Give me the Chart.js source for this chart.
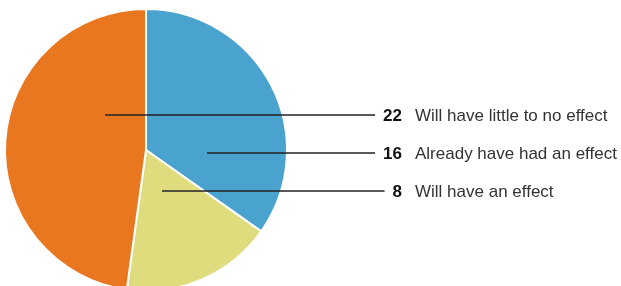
<!DOCTYPE html>
<html>
<head>
<meta charset="utf-8">
<script src="https://cdn.jsdelivr.net/npm/chart.js@4"></script>
<style>
  html, body { margin: 0; padding: 0; background: #fff; overflow: hidden; }
  #wrap { position: relative; width: 621px; height: 300px; }
</style>
</head>
<body>
<div id="wrap"><canvas id="effectChart"></canvas></div>
<script>
// Data
const categories = ["Already have had an effect", "Will have an effect", "Will have little to no effect"];
const counts = [16, 8, 22];
const sliceColors = ["#4AA2CE", "#DFDC7D", "#E9771F"];

// Label rows, top to bottom (index into categories)
const rowOrder = [2, 0, 1];

document.addEventListener("DOMContentLoaded", function () {
  // Leader lines + labels
  const leaderLabels = {
    id: "leaderLabels",
    afterDraw(chart) {
      const ctx = chart.ctx;
      const arcs = chart.getDatasetMeta(0).data;
      const cx = arcs[0].x;
      const cy = arcs[0].y;
      const rowY = [-35, 3, 41];
      const startX = { 0: 61, 1: 16, 2: -41 };
      const numRight = 402;
      const textLeft = 415;

      ctx.save();
      rowOrder.forEach((idx, row) => {
        const y = cy + rowY[row];
        const num = String(counts[idx]);
        ctx.font = "bold 17px 'Liberation Sans', Arial, sans-serif";
        const numW = ctx.measureText(num).width;

        ctx.strokeStyle = "#222";
        ctx.lineWidth = 1.4;
        ctx.beginPath();
        ctx.moveTo(cx + startX[idx], y);
        ctx.lineTo(numRight - numW - 8, y);
        ctx.stroke();

        ctx.fillStyle = "#111";
        ctx.textBaseline = "middle";
        ctx.textAlign = "right";
        ctx.fillText(num, numRight, y + 1);

        ctx.font = "17px 'Liberation Sans', Arial, sans-serif";
        ctx.fillStyle = "#333";
        ctx.textAlign = "left";
        ctx.fillText(categories[idx], textLeft, y + 1);
      });
      ctx.restore();
    },
  };

  const canvas = document.getElementById("effectChart");
  new Chart(canvas.getContext("2d"), {
    type: "pie",
    data: {
      labels: categories,
      datasets: [
        {
          data: counts,
          backgroundColor: sliceColors,
          borderColor: "#fff",
          borderWidth: 2,
        },
      ],
    },
    options: {
      responsive: true,
      maintainAspectRatio: false,
      animation: false,
      layout: { padding: { left: 4, top: 8, right: 333, bottom: 8 } },
      plugins: {
        legend: { display: false },
        tooltip: { enabled: false },
      },
    },
    plugins: [leaderLabels],
  });
});
</script>
</body>
</html>
